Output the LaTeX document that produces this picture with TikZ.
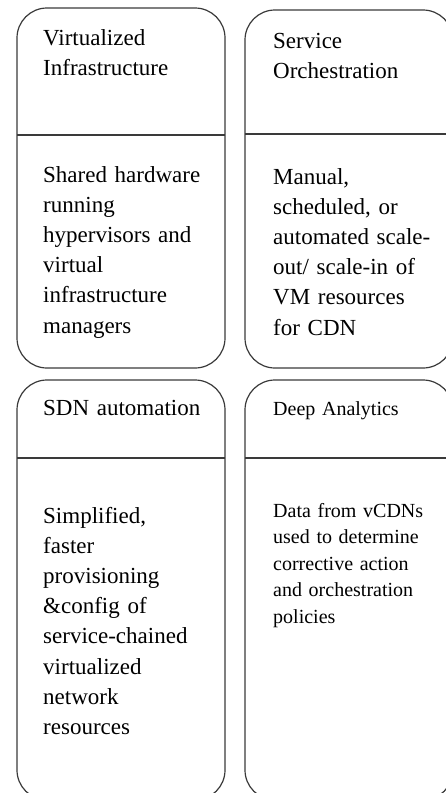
\documentclass[tikz,border=0pt]{standalone}
\usepackage{fontspec}
\setmainfont{Liberation Serif}
\definecolor{cardline}{HTML}{3A3A3A}
\begin{document}
\begin{tikzpicture}[x=1pt,y=-1pt,
  card/.style={draw=cardline, line width=1.2pt, rounded corners=30pt,
    minimum width=208pt, inner sep=0pt, outer sep=0pt, anchor=north west},
  rule/.style={draw=cardline, line width=1.2pt},
  big/.style={font=\fontsize{23}{30.2}\selectfont, text width=185pt,
    align=left, inner sep=0pt, anchor=base west},
  small/.style={font=\fontsize{20}{26.5}\selectfont, text width=185pt,
    align=left, inner sep=0pt, anchor=base west}]
\useasboundingbox (0,0) rectangle (446,793);
\clip (0,0) rectangle (446,793);

% four cards, the right and lower ones run past the page edge
\node[card, minimum height=360pt] (vi) at (17,8) {};
\node[card, minimum height=358pt] (so) at (245,10) {};
\node[card, minimum height=420pt] (sdn) at (17,380) {};
\node[card, minimum height=420pt] (da) at (245,380) {};

% header / body dividers
\coordinate (viL) at (vi.west |- 0,135);  \coordinate (viR) at (vi.east |- 0,135);
\coordinate (soL) at (so.west |- 0,134);  \coordinate (soR) at (so.east |- 0,134);
\coordinate (sdnL) at (sdn.west |- 0,458); \coordinate (sdnR) at (sdn.east |- 0,458);
\coordinate (daL) at (da.west |- 0,458);  \coordinate (daR) at (da.east |- 0,458);
\draw[rule] (viL) -- (viR);
\draw[rule] (soL) -- (soR);
\draw[rule] (sdnL) -- (sdnR);
\draw[rule] (daL) -- (daR);

% headers
\node[big] (viH) at (43,45) {Virtualized\\Infrastructure};
\node[big] (soH) at (273,48) {Service\\Orchestration};
\node[big] (sdnH) at (43,415) {SDN automation};
\node[small] (daH) at (273,415) {Deep Analytics};

% bodies
\node[big] (viB) at (43,182) {Shared hardware\\running\\hypervisors and\\virtual\\infrastructure\\managers};
\node[big] (soB) at (273,184) {Manual,\\scheduled, or\\automated scale-\\out/ scale-in of\\VM resources\\for CDN};
\node[big] (sdnB) at (43,523) {Simplified,\\faster\\provisioning\\\&config of\\service-chained\\virtualized\\network\\resources};
\node[small] (daB) at (273,517) {Data from vCDNs\\used to determine\\corrective action\\and orchestration\\policies};
\end{tikzpicture}
\end{document}
